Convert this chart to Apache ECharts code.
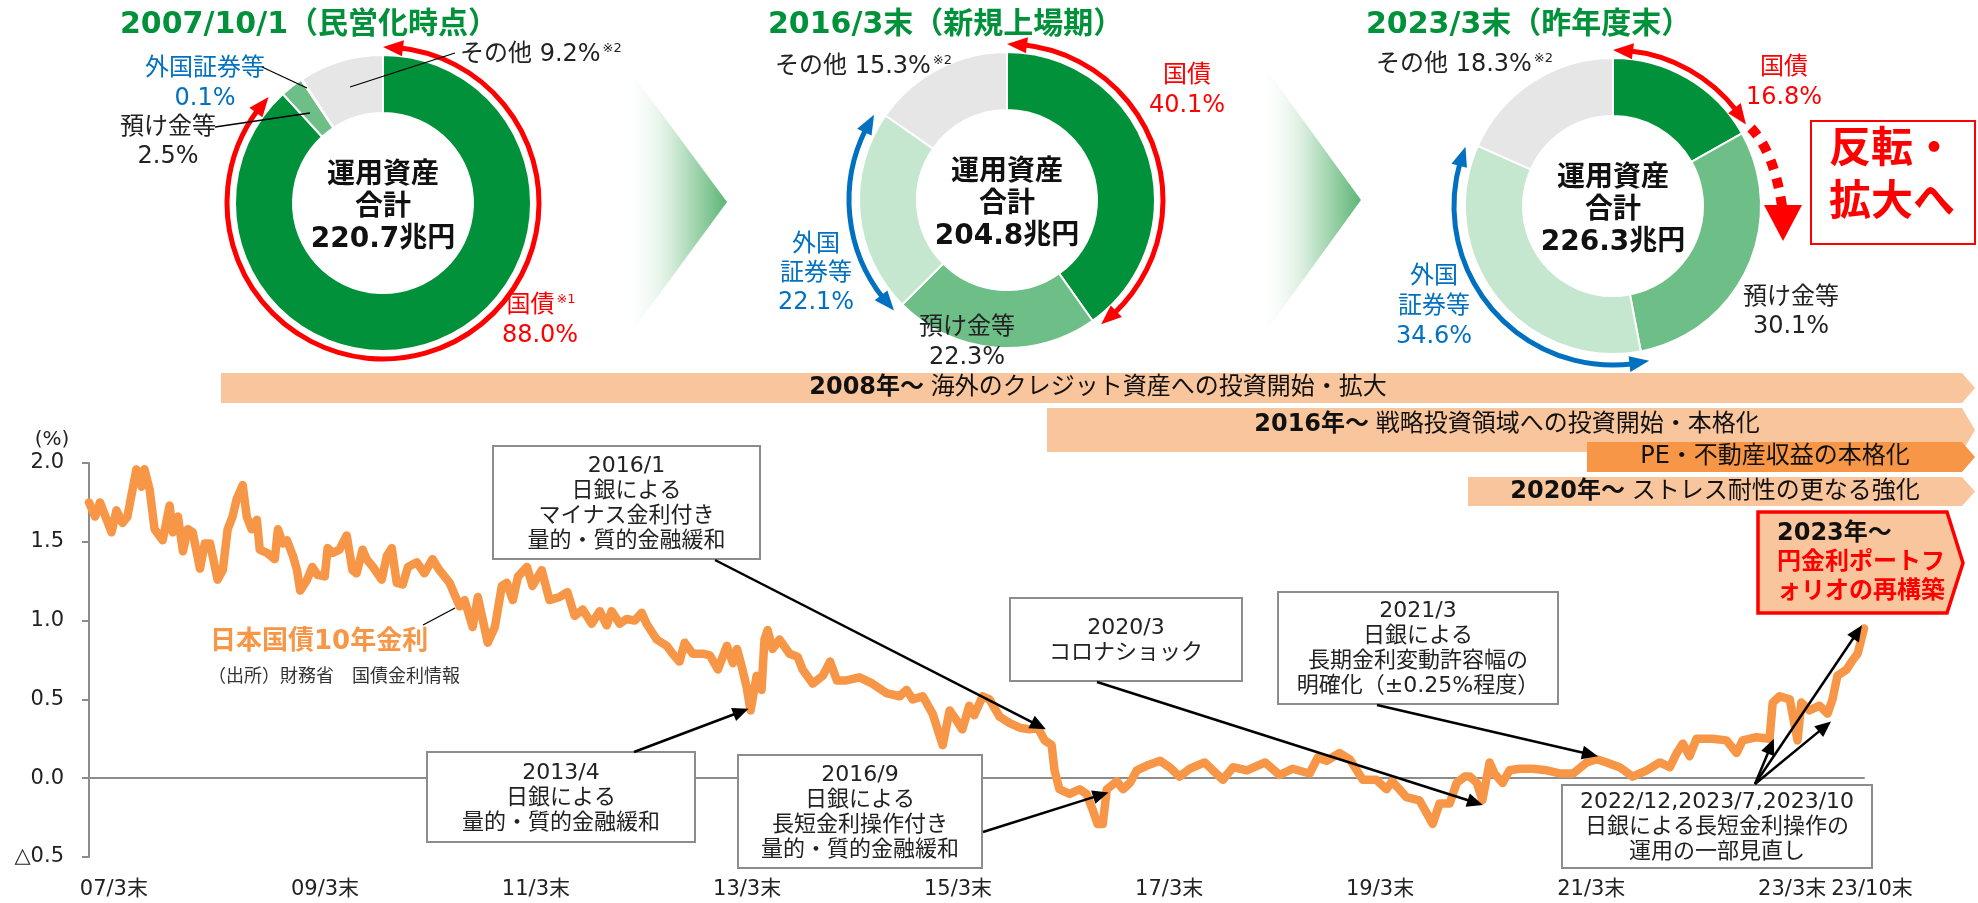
<!DOCTYPE html>
<html><head><meta charset="utf-8">
<script src="https://cdn.jsdelivr.net/npm/echarts@6/dist/echarts.min.js"></script>
<style>html,body{margin:0;padding:0;background:#fff}#c{width:1978px;height:903px}</style>
</head><body><div id="c"></div>
<script>
// ===== DATA =====
const pieNames = ['国債', '預け金等', '外国証券等', 'その他'];
const pie2007 = [88.0, 2.5, 0.1, 9.2];
const pie2016 = [40.1, 22.3, 22.1, 15.3];
const pie2023 = [16.8, 30.1, 34.6, 18.3];
const pieTitles = ['2007/10/1（民営化時点）', '2016/3末（新規上場期）', '2023/3末（昨年度末）'];
const pieTotals = ['220.7兆円', '204.8兆円', '226.3兆円'];

const yieldDates = ['2007-01-04','2007-01-25','2007-02-11','2007-03-23','2007-04-09','2007-04-30','2007-05-17','2007-06-17','2007-07-05','2007-07-15','2007-08-02','2007-08-19','2007-09-16','2007-10-10','2007-10-21','2007-11-08','2007-11-25','2007-12-12','2007-12-29','2008-01-23','2008-02-09','2008-02-27','2008-03-24','2008-04-11','2008-04-28','2008-05-15','2008-05-29','2008-06-19','2008-07-03','2008-07-20','2008-08-07','2008-08-17','2008-09-11','2008-10-08','2008-10-19','2008-11-05','2008-11-19','2008-12-10','2008-12-24','2009-01-04','2009-01-28','2009-02-15','2009-03-05','2009-03-30','2009-04-09','2009-04-27','2009-05-20','2009-06-14','2009-07-04','2009-07-18','2009-08-08','2009-08-22','2009-09-13','2009-10-13','2009-10-31','2009-11-17','2009-12-04','2009-12-25','2010-01-12','2010-02-12','2010-03-10','2010-04-07','2010-05-01','2010-06-05','2010-07-10','2010-07-27','2010-08-24','2010-09-11','2010-10-15','2010-11-09','2010-12-03','2010-12-20','2011-01-10','2011-01-28','2011-02-28','2011-03-19','2011-04-20','2011-05-17','2011-06-21','2011-07-18','2011-08-12','2011-09-09','2011-10-10','2011-11-07','2011-12-01','2011-12-18','2012-01-15','2012-02-08','2012-03-07','2012-03-31','2012-04-17','2012-05-22','2012-06-26','2012-07-16','2012-08-09','2012-08-27','2012-09-24','2012-10-29','2012-11-22','2012-12-20','2013-01-20','2013-02-10','2013-02-24','2013-03-15','2013-03-29','2013-04-12','2013-05-03','2013-05-20','2013-05-30','2013-06-10','2013-06-27','2013-07-21','2013-08-25','2013-09-22','2013-10-09','2013-11-13','2013-12-18','2014-01-12','2014-02-05','2014-03-10','2014-04-24','2014-06-08','2014-07-26','2014-09-10','2014-10-04','2014-10-25','2014-11-29','2015-01-02','2015-02-06','2015-03-02','2015-03-25','2015-04-15','2015-05-09','2015-05-26','2015-06-24','2015-07-18','2015-08-22','2015-09-26','2015-10-31','2015-12-04','2016-01-01','2016-01-25','2016-02-18','2016-02-28','2016-03-16','2016-04-20','2016-05-25','2016-06-18','2016-07-09','2016-07-26','2016-08-13','2016-08-27','2016-10-01','2016-10-22','2016-11-15','2016-12-09','2017-01-13','2017-02-28','2017-04-01','2017-05-06','2017-06-10','2017-08-01','2017-08-29','2017-10-03','2017-11-07','2017-12-25','2018-02-26','2018-04-17','2018-06-01','2018-07-30','2018-08-27','2018-09-27','2018-11-11','2018-12-16','2019-01-30','2019-03-18','2019-04-22','2019-05-12','2019-06-30','2019-08-14','2019-09-29','2019-10-23','2019-11-27','2019-12-21','2020-01-18','2020-02-05','2020-02-29','2020-03-19','2020-04-13','2020-04-30','2020-05-28','2020-06-21','2020-07-26','2020-09-09','2020-10-28','2020-12-12','2021-01-27','2021-03-15','2021-04-19','2021-05-23','2021-07-07','2021-08-21','2021-10-09','2021-11-23','2021-12-28','2022-01-21','2022-02-11','2022-03-06','2022-03-30','2022-05-24','2022-07-12','2022-08-16','2022-09-06','2022-10-24','2022-12-08','2022-12-19','2023-01-12','2023-02-16','2023-03-15','2023-03-28','2023-04-25','2023-05-30','2023-06-27','2023-07-14','2023-07-31','2023-09-01','2023-09-22','2023-10-09','2023-10-31'];
const yieldValues = [1.75,1.66,1.75,1.56,1.70,1.62,1.66,1.96,1.85,1.96,1.83,1.58,1.51,1.73,1.56,1.66,1.44,1.58,1.56,1.33,1.49,1.49,1.26,1.32,1.58,1.66,1.77,1.86,1.66,1.58,1.64,1.45,1.43,1.39,1.58,1.49,1.51,1.41,1.32,1.19,1.26,1.34,1.29,1.28,1.46,1.43,1.45,1.54,1.32,1.30,1.45,1.39,1.34,1.26,1.41,1.46,1.24,1.23,1.34,1.37,1.30,1.39,1.32,1.24,1.09,1.13,0.96,1.15,0.86,0.96,1.22,1.24,1.13,1.28,1.34,1.22,1.32,1.13,1.15,1.18,1.03,1.07,0.98,1.06,0.97,1.06,0.98,1.01,1.00,1.05,0.98,0.88,0.84,0.79,0.74,0.86,0.79,0.79,0.78,0.69,0.84,0.73,0.82,0.69,0.58,0.43,0.65,0.56,0.88,0.94,0.82,0.88,0.79,0.77,0.69,0.60,0.65,0.74,0.62,0.62,0.64,0.60,0.54,0.52,0.56,0.50,0.52,0.41,0.21,0.43,0.37,0.31,0.46,0.40,0.52,0.50,0.39,0.35,0.32,0.31,0.32,0.24,0.21,0.05,-0.07,-0.10,-0.07,-0.10,-0.20,-0.29,-0.29,-0.07,-0.02,-0.07,-0.03,0.05,0.08,0.11,0.07,0.01,0.06,0.10,0.05,-0.01,0.07,0.05,0.10,0.02,0.06,0.03,0.13,0.11,0.16,0.12,-0.01,-0.01,-0.07,-0.02,-0.12,-0.14,-0.29,-0.16,-0.16,-0.03,0.01,0.01,-0.03,-0.14,0.10,0.03,-0.03,0.05,0.06,0.06,0.05,0.03,0.03,0.10,0.12,0.10,0.07,0.01,0.05,0.10,0.07,0.16,0.22,0.14,0.25,0.25,0.24,0.16,0.24,0.26,0.25,0.48,0.52,0.50,0.24,0.48,0.43,0.46,0.41,0.50,0.65,0.69,0.75,0.79,0.95];

const xTickDates = ['2007-03-31','2009-03-31','2011-03-31','2013-03-31','2015-03-31','2017-03-31','2019-03-31','2021-03-31','2023-03-31','2023-10-31'];
const xTickLabels = ['07/3末','09/3末','11/3末','13/3末','15/3末','17/3末','19/3末','21/3末','23/3末','23/10末'];
const yMin = -0.5, yMax = 2.0, yStep = 0.5;

const bannerBold = ['2008年～', '2016年～', '', '2020年～'];
const bannerText = ['海外のクレジット資産への投資開始・拡大', '戦略投資領域への投資開始・本格化', 'PE・不動産収益の本格化', 'ストレス耐性の更なる強化'];

const eventLabels = [
  ['2016/1', '日銀による', 'マイナス金利付き', '量的・質的金融緩和'],
  ['2013/4', '日銀による', '量的・質的金融緩和'],
  ['2016/9', '日銀による', '長短金利操作付き', '量的・質的金融緩和'],
  ['2020/3', 'コロナショック'],
  ['2021/3', '日銀による', '長期金利変動許容幅の', '明確化（±0.25%程度）'],
  ['2022/12,2023/7,2023/10', '日銀による長短金利操作の', '運用の一部見直し']
];
const eventTargets = [
  [['2016-01-29', 0.31]],
  [['2013-04-05', 0.44]],
  [['2016-09-02', -0.09]],
  [['2020-03-21', -0.17]],
  [['2021-04-23', 0.14]],
  [['2022-12-23', 0.25], ['2023-07-09', 0.36], ['2023-10-24', 0.97]]
];

// ===== STYLE / LAYOUT =====
const FONT = "'DejaVu Sans','Noto Sans CJK JP',sans-serif";
const sliceColors = ['#00913A', '#6DBE87', '#C5E6CF', '#E6E6E6'];
const RED = '#FF0000', BLUE = '#0070C0', ORANGE = '#F79646', PEACH = '#F9C59C', GREEN = '#00913A';
const ts = s => { const p = s.split('-').map(Number); return new Date(p[0], p[1] - 1, p[2]).getTime(); };
const xTickTs = xTickDates.map(ts);
const X_MIN = ts('2007-01-04'), X_MAX = ts('2023-10-31');

const chart = echarts.init(document.getElementById('c'), null, { renderer: 'canvas' });

const pieCenters = [[383, 203], [1007, 200], [1613, 206]];
function pieSeries(vals, c) {
  return {
    type: 'pie', center: c, radius: [90, 148], startAngle: 90, clockwise: true, silent: true,
    label: { show: false }, labelLine: { show: false }, animation: false,
    itemStyle: { borderColor: '#fff', borderWidth: 2 },
    data: vals.map((v, i) => ({ name: pieNames[i], value: v, itemStyle: { color: sliceColors[i] } }))
  };
}

const option = {
  animation: false,
  backgroundColor: '#fff',
  textStyle: { fontFamily: FONT },
  grid: { left: 89, right: 114, top: 463, bottom: 46, containLabel: false },
  xAxis: [{
    type: 'value', min: X_MIN, max: X_MAX, scale: true,
    axisLine: { show: false, onZero: false }, axisTick: { show: false }, splitLine: { show: false },
    axisLabel: {
      customValues: xTickTs, hideOverlap: false, margin: 22, fontSize: 21, color: '#222', fontFamily: FONT,
      showMinLabel: true, showMaxLabel: true,
      formatter: (v) => {
        const i = xTickTs.findIndex(t => Math.abs(t - v) < 86400000);
        if (i < 0) return '';
        if (i === xTickLabels.length - 2) return '{l|' + xTickLabels[i] + '}';
        if (i === xTickLabels.length - 1) return '{r|' + xTickLabels[i] + '}';
        return xTickLabels[i];
      },
      rich: {
        l: { padding: [0, 20, 0, 0], fontSize: 21, color: '#222', fontFamily: FONT },
        r: { padding: [0, 0, 0, 16], fontSize: 21, color: '#222', fontFamily: FONT }
      }
    }
  }, {
    type: 'value', position: 'bottom', min: X_MIN, max: X_MAX, scale: true,
    axisLine: { show: true, onZero: true, lineStyle: { color: '#8C8C8C', width: 2 } },
    axisTick: { show: false }, axisLabel: { show: false }, splitLine: { show: false }
  }],
  yAxis: {
    type: 'value', min: yMin, max: yMax, interval: yStep,
    axisLine: { show: true, lineStyle: { color: '#8C8C8C', width: 2 } },
    axisTick: { show: true, length: 7, lineStyle: { color: '#8C8C8C', width: 2 } },
    splitLine: { show: false },
    axisLabel: {
      margin: 25, fontSize: 21, color: '#222', fontFamily: FONT,
      formatter: v => (v < 0 ? '△' + Math.abs(v).toFixed(1) : v.toFixed(1))
    }
  },
  series: [
    pieSeries(pie2007, pieCenters[0]),
    pieSeries(pie2016, pieCenters[1]),
    pieSeries(pie2023, pieCenters[2]),
    {
      type: 'line', xAxisIndex: 0, yAxisIndex: 0, showSymbol: false, silent: true, z: 5,
      lineStyle: { color: ORANGE, width: 8.5, cap: 'round', join: 'round' },
      data: yieldDates.map((d, i) => [ts(d), yieldValues[i]])
    }
  ]
};
chart.setOption(option);

// ===== ANNOTATIONS (graphic) =====
const G = [];
const rad = a => a * Math.PI / 180;
function text(x, y, str, st, z) {
  G.push({ type: 'text', x: x, y: y, z: z || 100, silent: true,
    style: Object.assign({ text: str, fontFamily: FONT, fontSize: 21, fill: '#222', align: 'center', verticalAlign: 'middle' }, st) });
}
function line(x1, y1, x2, y2, color, w, z) {
  G.push({ type: 'line', z: z || 100, silent: true, shape: { x1, y1, x2, y2 }, style: { stroke: color, lineWidth: w } });
}
function poly(pts, fill, stroke, w, z) {
  G.push({ type: 'polygon', z: z || 100, silent: true, shape: { points: pts }, style: { fill: fill, stroke: stroke || null, lineWidth: w || 0 } });
}
function arrow(x1, y1, x2, y2, L, W) {
  L = L || 16; W = W || 7;
  const a = Math.atan2(y2 - y1, x2 - x1), c = Math.cos(a), s = Math.sin(a);
  const bx = x2 - L * c, by = y2 - L * s;
  line(x1, y1, bx + 2 * c, by + 2 * s, '#000', 2.5);
  poly([[x2, y2], [bx - W * s, by + W * c], [bx + W * s, by - W * c]], '#000');
}
function arcArrow(cx, cy, r, a0, a1, color, w) {
  const L = 20, W = 8, da = L / r;
  const A0 = rad(a0), A1 = rad(a1);
  G.push({ type: 'arc', z: 60, silent: true, shape: { cx, cy, r, startAngle: A0 + da * 0.8, endAngle: A1 - da * 0.8, clockwise: true },
    style: { stroke: color, lineWidth: w, fill: 'none' } });
  const head = (at, bt) => {
    const tip = [cx + r * Math.cos(at), cy + r * Math.sin(at)];
    const b1 = [cx + (r + W) * Math.cos(bt), cy + (r + W) * Math.sin(bt)];
    const b2 = [cx + (r - W) * Math.cos(bt), cy + (r - W) * Math.sin(bt)];
    poly([tip, b1, b2], color, null, 0, 61);
  };
  head(A0, A0 + da);
  head(A1, A1 - da);
}
const frac = (vals, k) => vals.slice(0, k).reduce((a, b) => a + b, 0) / 100;
const ang = f => -90 + 360 * f;

// chevrons
const grad = () => new echarts.graphic.LinearGradient(0, 0, 1, 0, [
  { offset: 0, color: 'rgba(255,255,255,0)' }, { offset: 0.45, color: '#D8EEDD' }, { offset: 1, color: '#5DB575' }]);
G.push({ type: 'polygon', z: 1, silent: true, shape: { points: [[622, 60], [727, 202], [622, 345]] }, style: { fill: grad() } });
G.push({ type: 'polygon', z: 1, silent: true, shape: { points: [[1256, 55], [1361, 200], [1256, 345]] }, style: { fill: grad() } });

// titles & centre text
const titleX = [120, 768, 1366];
pieTitles.forEach((t, i) => text(titleX[i], 25, t, { align: 'left', fontSize: 30, fontWeight: 'bold', fill: GREEN }));
pieCenters.forEach((c, i) => text(c[0], c[1] + 5, '運用資産\n合計\n' + pieTotals[i],
  { fontSize: 28, fontWeight: 'bold', fill: '#111', lineHeight: 32 }));

const pct = v => v.toFixed(1) + '%';
const supRich = (size, col) => ({ a: { fontSize: size, fontFamily: FONT, fill: col || '#222' }, s: { fontSize: 13, fontFamily: FONT, fill: col || '#222', verticalAlign: 'top', padding: [0, 0, 12, 2] } });

// donut 1
arcArrow(383, 203, 156, ang(0), ang(frac(pie2007, 1)) - 4, RED, 5);
text(460, 55, '{a|' + pieNames[3] + ' ' + pct(pie2007[3]) + '}{s|※2}', { align: 'left', rich: supRich(24) });
line(455, 53, 350, 87, '#000', 1.3);
text(205, 84, pieNames[2] + '\n' + pct(pie2007[2]), { fontSize: 24, fill: BLUE, lineHeight: 30 });
line(262, 67, 307, 88, '#000', 1.3);
text(168, 142, pieNames[1] + '\n' + pct(pie2007[1]), { fontSize: 24, fill: '#222', lineHeight: 29 });
line(215, 127, 310, 113, '#000', 1.3);
text(541, 306, '{a|' + pieNames[0] + '}{s|※1}', { rich: supRich(24, RED) });
text(540, 336, pct(pie2007[0]), { fontSize: 24, fill: RED });

// donut 2
arcArrow(1007, 200, 156, ang(0), ang(frac(pie2016, 1)) - 1.5, RED, 5);
arcArrow(1007, 200, 158, ang(frac(pie2016, 2)) + 1, ang(frac(pie2016, 3)) - 1.5, BLUE, 5);
text(775, 67, '{a|' + pieNames[3] + ' ' + pct(pie2016[3]) + '}{s|※2}', { align: 'left', rich: supRich(24) });
text(1187, 91, pieNames[0] + '\n' + pct(pie2016[0]), { fontSize: 24, fill: RED, lineHeight: 30 });
text(816, 274, '外国\n証券等\n' + pct(pie2016[2]), { fontSize: 24, fill: BLUE, lineHeight: 29 });
text(967, 343, pieNames[1] + '\n' + pct(pie2016[1]), { fontSize: 24, fill: '#222', lineHeight: 30 });

// donut 3
arcArrow(1613, 206, 156, ang(0), ang(frac(pie2023, 1)) - 2, RED, 5);
arcArrow(1613, 206, 159, ang(frac(pie2023, 2)) - 2, ang(frac(pie2023, 3)) - 1.5, BLUE, 5);
text(1376, 65, '{a|' + pieNames[3] + ' ' + pct(pie2023[3]) + '}{s|※2}', { align: 'left', rich: supRich(24) });
text(1784, 83, pieNames[0] + '\n' + pct(pie2023[0]), { fontSize: 24, fill: RED, lineHeight: 30 });
text(1791, 312, pieNames[1] + '\n' + pct(pie2023[1]), { fontSize: 24, fill: '#222', lineHeight: 29 });
text(1434, 307, '外国\n証券等\n' + pct(pie2023[2]), { fontSize: 24, fill: BLUE, lineHeight: 30 });
// dotted red arrow
G.push({ type: 'bezierCurve', z: 60, silent: true, shape: { x1: 1751, y1: 128, x2: 1782, y2: 206, cpx1: 1774, cpy1: 152 },
  style: { stroke: RED, lineWidth: 10, lineDash: [10, 9], fill: 'none' } });
poly([[1764, 205], [1802, 205], [1783, 241]], RED, null, 0, 61);
// 反転・拡大へ
G.push({ type: 'rect', z: 50, silent: true, shape: { x: 1811, y: 121, width: 164, height: 123 }, style: { fill: '#fff', stroke: RED, lineWidth: 2 } });
text(1829, 178, '反転・\n拡大へ', { align: 'left', fontSize: 42, fontWeight: 'bold', fill: RED, lineHeight: 53 });

// banners
function banner(x, y, h, color, z) {
  poly([[x, y], [1962, y], [1975, y + h / 2], [1962, y + h], [x, y + h]], color, null, 0, z);
}
const bRich = { b: { fontSize: 24, fontWeight: 'bold', fontFamily: FONT, fill: '#111' }, n: { fontSize: 24, fontFamily: FONT, fill: '#111' } };
banner(221, 373, 30, PEACH, 20);
text(1098, 388, '{b|' + bannerBold[0] + '} {n|' + bannerText[0] + '}', { rich: bRich }, 30);
banner(1047, 408, 44, PEACH, 20);
text(1507, 425, '{b|' + bannerBold[1] + '} {n|' + bannerText[1] + '}', { rich: bRich }, 30);
banner(1587, 442, 30, ORANGE, 22);
text(1775, 457, bannerText[2], { fontSize: 24, fill: '#111' }, 32);
banner(1468, 477, 29, PEACH, 20);
text(1715, 492, '{b|' + bannerBold[3] + '} {n|' + bannerText[3] + '}', { rich: bRich }, 30);
// 2023 pentagon
poly([[1758, 512], [1947, 512], [1963, 563], [1947, 613], [1758, 613]], PEACH, RED, 3.5, 40);
text(1777, 563, '{b|2023年～}\n{r|円金利ポートフ}\n{r|ォリオの再構築}', {
  align: 'left', lineHeight: 29,
  rich: { b: { fontSize: 24, fontWeight: 'bold', fontFamily: FONT, fill: '#111', lineHeight: 29 },
          r: { fontSize: 24, fontWeight: 'bold', fontFamily: FONT, fill: RED, lineHeight: 29 } }
}, 41);

// line chart texts
text(52, 440, '(%)', { fontSize: 20, fill: '#222' });
text(210, 642, '日本国債10年金利', { align: 'left', fontSize: 26, fontWeight: 'bold', fill: ORANGE });
text(208, 677, '（出所）財務省　国債金利情報', { align: 'left', fontSize: 18, fill: '#333' });
line(423, 625, 455, 608, '#000', 1.3);

// event boxes and arrows
const boxes = [
  { x: 493, y: 446, w: 267, h: 113, tail: [715, 560] },
  { x: 427, y: 752, w: 268, h: 90, tail: [634, 752] },
  { x: 738, y: 755, w: 244, h: 113, tail: [983, 832] },
  { x: 1010, y: 598, w: 232, h: 83, tail: [1097, 682] },
  { x: 1278, y: 592, w: 280, h: 112, tail: [1377, 705] },
  { x: 1562, y: 785, w: 310, h: 83, tail: [1755, 784] }
];
boxes.forEach((b, i) => {
  G.push({ type: 'rect', z: 90, silent: true, shape: { x: b.x, y: b.y, width: b.w, height: b.h }, style: { fill: '#fff', stroke: '#8C8C8C', lineWidth: 2 } });
  text(b.x + b.w / 2, b.y + b.h / 2 + 1, eventLabels[i].join('\n'), { fontSize: 22, fill: '#222', lineHeight: 25 }, 91);
  eventTargets[i].forEach(t => {
    const p = chart.convertToPixel({ xAxisIndex: 0, yAxisIndex: 0 }, [ts(t[0]), t[1]]);
    arrow(b.tail[0], b.tail[1], p[0], p[1], 16, 7);
  });
});

chart.setOption({ graphic: { elements: G } });
</script>
</body></html>
